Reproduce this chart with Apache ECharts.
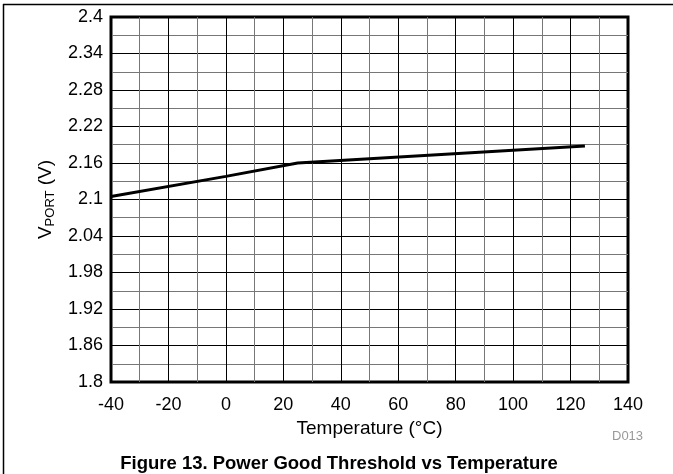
<!DOCTYPE html>
<html>
<head>
<meta charset="utf-8">
<script src="https://cdn.jsdelivr.net/npm/echarts@6/dist/echarts.min.js"></script>
<style>
  html, body { margin: 0; padding: 0; background: #fff; }
  #chart { width: 673px; height: 474px; }
</style>
</head>
<body>
<div id="chart"></div>
<script>
var temps = [-40, 0, 25, 75, 125];
var vport = [2.105, 2.138, 2.16, 2.174, 2.188];

var font = 'Liberation Sans, Arial, Helvetica, sans-serif';

var myChart = echarts.init(document.getElementById('chart'));
var option = {
    animation: false,
    grid: {
        left: 111,
        top: 17,
        right: 45,
        bottom: 92,
        show: true,
        borderColor: '#000',
        borderWidth: 3,
        backgroundColor: 'transparent'
    },
    title: {
        text: 'Figure 13. Power Good Threshold vs Temperature',
        left: 334,
        textAlign: 'center',
        top: 449,
        textStyle: { fontFamily: font, fontSize: 18.5, fontWeight: 'bold', color: '#000' }
    },
    xAxis: {
        type: 'value',
        min: -40,
        max: 140,
        interval: 20,
        name: 'Temperature (°C)',
        nameLocation: 'middle',
        nameGap: 37,
        nameTextStyle: { fontFamily: font, fontSize: 19, color: '#000' },
        axisLine: { show: false },
        axisTick: { show: false },
        axisLabel: { fontFamily: font, fontSize: 18, color: '#000', margin: 14 },
        splitLine: { show: true, lineStyle: { color: '#000', width: 1 } },
        minorTick: { show: false, splitNumber: 2 },
        minorSplitLine: { show: true, lineStyle: { color: '#777', width: 1 } }
    },
    yAxis: {
        type: 'value',
        min: 1.8,
        max: 2.4,
        interval: 0.06,
        name: '{v|V}{s|PORT}{v| (V)}',
        nameLocation: 'middle',
        nameRotate: 90,
        nameGap: 52,
        nameTextStyle: {
            rich: {
                v: { fontFamily: font, fontSize: 19, color: '#000', lineHeight: 22 },
                s: { fontFamily: font, fontSize: 13, color: '#000', lineHeight: 22, verticalAlign: 'bottom', padding: [7, 0, 0, 0] }
            }
        },
        axisLine: { show: false },
        axisTick: { show: false },
        axisLabel: {
            fontFamily: font, fontSize: 18, color: '#000', margin: 8,
            formatter: function (v) { return String(+v.toFixed(2)); }
        },
        splitLine: { show: true, lineStyle: { color: '#000', width: 1 } },
        minorTick: { show: false, splitNumber: 2 },
        minorSplitLine: { show: true, lineStyle: { color: '#777', width: 1 } }
    },
    graphic: [
        {
            type: 'line',
            shape: { x1: 3, y1: 4.5, x2: 673, y2: 4.5 },
            style: { stroke: '#000', lineWidth: 1.5 }
        },
        {
            type: 'line',
            shape: { x1: 3.5, y1: 4, x2: 3.5, y2: 474 },
            style: { stroke: '#000', lineWidth: 1.5 }
        },
        {
            type: 'text',
            left: 612,
            top: 430,
            style: { text: 'D013', fontFamily: font, fontSize: 13, fill: '#999' }
        }
    ],
    series: [{
        type: 'line',
        data: temps.map(function (t, i) { return [t, vport[i]]; }),
        symbol: 'none',
        lineStyle: { color: '#000', width: 3 },
        z: 5
    }]
};
myChart.setOption(option);
</script>
</body>
</html>
